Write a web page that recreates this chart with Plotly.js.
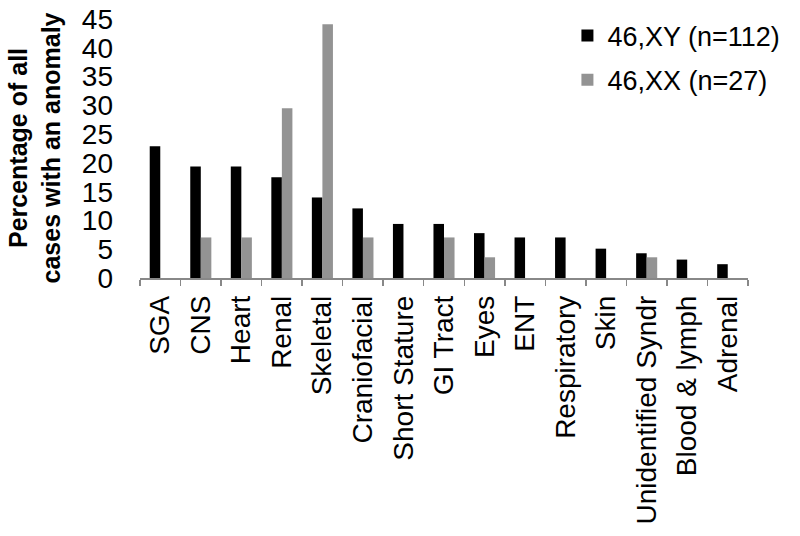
<!DOCTYPE html>
<html>
<head>
<meta charset="utf-8">
<script src="https://cdn.plot.ly/plotly-3.0.1.min.js"></script>
<style>
  html, body { margin: 0; padding: 0; background: #fff; }
  #plot { width: 800px; height: 536px; }
</style>
</head>
<body>
<div id="plot"></div>
<script>
const categories = ["SGA", "CNS", "Heart", "Renal", "Skeletal", "Craniofacial", "Short Stature",
    "GI Tract", "Eyes", "ENT", "Respiratory", "Skin", "Unidentified Syndr", "Blood & lymph", "Adrenal"];
const xy_values = [22.9, 19.4, 19.4, 17.5, 14.0, 12.1, 9.4, 9.4, 7.8, 7.05, 7.05, 5.1, 4.3, 3.2, 2.4];
const xx_values = [0, 7.05, 7.05, 29.5, 44.1, 7.05, 0, 7.05, 3.6, 0, 0, 0, 3.6, 0, 0];
const series_names = ["46,XY (n=112)", "46,XX (n=27)"];
const y_ticks = [0, 5, 10, 15, 20, 25, 30, 35, 40, 45];

const font_family = "Liberation Sans, Arial, Helvetica, sans-serif";

const data = [
    {
        type: "bar",
        x: categories,
        y: xy_values,
        name: series_names[0],
        legendgroup: "a",
        marker: { color: "#000000" }
    },
    {
        type: "bar",
        x: categories,
        y: xx_values,
        name: series_names[1],
        legendgroup: "b",
        marker: { color: "#939393" }
    }
];

const layout = {
    width: 800,
    height: 536,
    margin: { l: 140, r: 52, t: 12, b: 258 },
    paper_bgcolor: "#ffffff",
    plot_bgcolor: "#ffffff",
    font: { family: font_family, color: "#000000" },
    barmode: "group",
    bargap: 0.48,
    bargroupgap: 0,
    showlegend: true,
    legend: {
        x: 0.703,
        y: 1.025,
        xanchor: "left",
        yanchor: "top",
        font: { size: 27, family: font_family },
        traceorder: "grouped",
        tracegroupgap: 6,
        bgcolor: "rgba(0,0,0,0)"
    },
    xaxis: {
        type: "category",
        tickangle: -90,
        tickfont: { size: 28, family: font_family },
        showline: true,
        linecolor: "#888888",
        linewidth: 1.5,
        ticks: "outside",
        tickson: "boundaries",
        ticklen: 6,
        tickcolor: "#888888",
        tickwidth: 1.5,
        ticklabelstandoff: 5,
        showgrid: false,
        zeroline: false,
        automargin: false
    },
    yaxis: {
        range: [0, 45.2],
        tickvals: y_ticks,
        ticktext: y_ticks.map(String),
        tickfont: { size: 28, family: font_family },
        ticklabeloverflow: "allow",
        showline: false,
        showgrid: false,
        zeroline: false,
        ticks: "",
        ticklabelstandoff: 26,
        automargin: false,
        title: {
            text: "Percentage of all<br>cases with an anomaly",
            font: { size: 25, family: font_family, weight: "bold" },
            standoff: 14
        }
    }
};

const config = { responsive: false, displayModeBar: false, staticPlot: true };

Plotly.newPlot("plot", data, layout, config);
</script>
</body>
</html>
